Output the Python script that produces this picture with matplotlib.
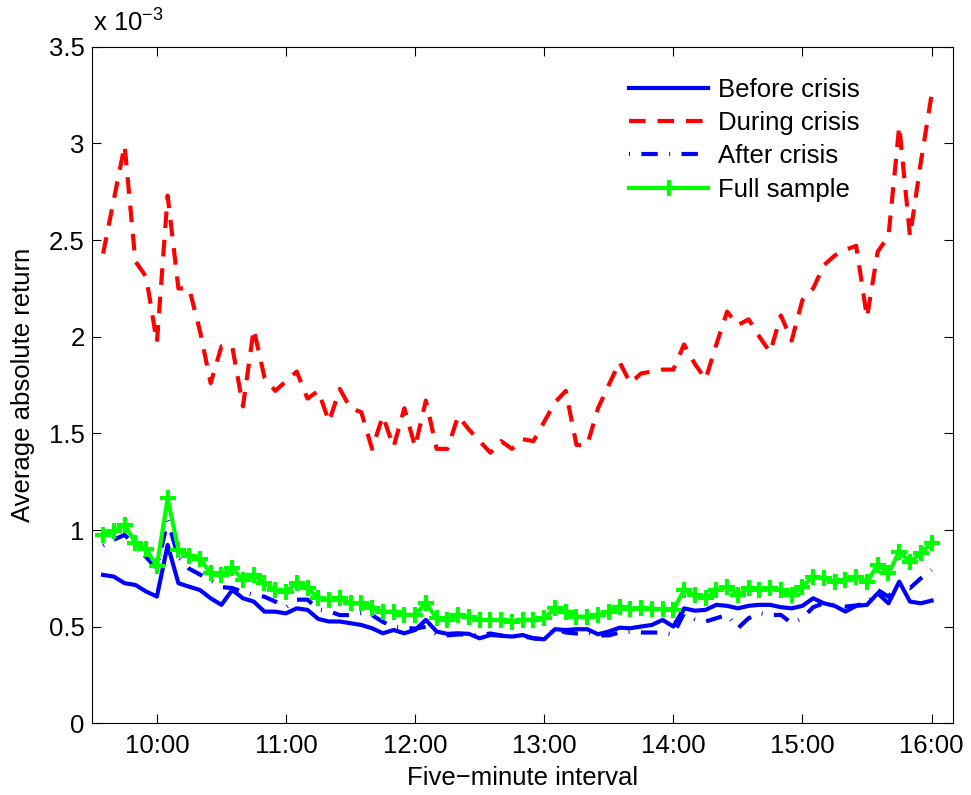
import matplotlib
matplotlib.use('Agg')
import matplotlib.pyplot as plt
import numpy as np

# ---------------- data (values in units of 1e-3) ----------------
intervals = list(range(1, 79))          # 5-minute intervals 9:35 ... 16:00
tick_pos = [6, 18, 30, 42, 54, 66, 78]
tick_labels = ['10:00', '11:00', '12:00', '13:00', '14:00', '15:00', '16:00']
ytick_vals = [0, 0.5, 1, 1.5, 2, 2.5, 3, 3.5]
ytick_labels = ['0', '0.5', '1', '1.5', '2', '2.5', '3', '3.5']

before = [
    0.768, 0.759, 0.725, 0.716, 0.682, 0.656, 0.923, 0.725, 0.707, 0.690,
    0.647, 0.613, 0.690, 0.647, 0.630, 0.578, 0.578, 0.569, 0.595, 0.587,
    0.540, 0.527, 0.527, 0.518, 0.509, 0.492, 0.466, 0.483, 0.466, 0.483,
    0.535, 0.475, 0.463, 0.466, 0.463, 0.440, 0.457, 0.453, 0.449, 0.457,
    0.440, 0.435, 0.487, 0.483, 0.487, 0.487, 0.461, 0.475, 0.495, 0.492,
    0.501, 0.509, 0.535, 0.501, 0.595, 0.583, 0.587, 0.613, 0.608, 0.595,
    0.608, 0.613, 0.613, 0.601, 0.595, 0.608, 0.647, 0.621, 0.608, 0.578,
    0.608, 0.613, 0.673, 0.621, 0.733, 0.630, 0.621, 0.635]

during = [
    2.43, 2.71, 2.99, 2.39, 2.31, 1.97, 2.73, 2.25, 2.25, 2.03,
    1.76, 1.95, 1.95, 1.64, 2.04, 1.79, 1.72, 1.77, 1.82, 1.68,
    1.72, 1.56, 1.73, 1.63, 1.61, 1.42, 1.59, 1.43, 1.63, 1.43,
    1.67, 1.42, 1.42, 1.59, 1.52, 1.46, 1.40, 1.46, 1.42, 1.47,
    1.46, 1.56, 1.66, 1.72, 1.44, 1.44, 1.63, 1.75, 1.87, 1.76,
    1.81, 1.82, 1.83, 1.83, 1.96, 1.86, 1.78, 1.96, 2.13, 2.06,
    2.09, 2.00, 1.92, 2.11, 1.98, 2.19, 2.25, 2.37, 2.42, 2.45,
    2.47, 2.10, 2.44, 2.52, 3.09, 2.52, 2.90, 3.25]

after = [
    0.92, 0.95, 0.975, 0.92, 0.86, 0.80, 1.05, 0.86, 0.80, 0.77,
    0.74, 0.705, 0.70, 0.68, 0.665, 0.655, 0.63, 0.60, 0.64, 0.64,
    0.59, 0.58, 0.56, 0.56, 0.57, 0.56, 0.525, 0.50, 0.495, 0.49,
    0.50, 0.46, 0.455, 0.46, 0.46, 0.455, 0.465, 0.455, 0.45, 0.45,
    0.44, 0.435, 0.49, 0.47, 0.465, 0.47, 0.455, 0.455, 0.47, 0.474,
    0.47, 0.47, 0.47, 0.46, 0.57, 0.54, 0.527, 0.544, 0.561, 0.492,
    0.544, 0.57, 0.561, 0.561, 0.518, 0.544, 0.601, 0.621, 0.613, 0.604,
    0.61, 0.62, 0.69, 0.655, 0.72, 0.70, 0.75, 0.793]

full = [
    0.975, 0.996, 1.026, 0.935, 0.90, 0.815, 1.164, 0.897, 0.868, 0.85,
    0.777, 0.768, 0.802, 0.742, 0.768, 0.725, 0.690, 0.682, 0.725, 0.70,
    0.647, 0.639, 0.647, 0.621, 0.621, 0.595, 0.578, 0.578, 0.561, 0.561,
    0.621, 0.544, 0.535, 0.561, 0.552, 0.535, 0.535, 0.535, 0.526, 0.535,
    0.535, 0.544, 0.595, 0.578, 0.552, 0.552, 0.561, 0.578, 0.60, 0.590,
    0.595, 0.590, 0.590, 0.587, 0.690, 0.665, 0.647, 0.690, 0.707, 0.665,
    0.699, 0.690, 0.699, 0.690, 0.665, 0.707, 0.759, 0.750, 0.733, 0.742,
    0.759, 0.733, 0.819, 0.776, 0.888, 0.836, 0.880, 0.932]

scale = 1e-3

# ---------------- style ----------------
plt.rcParams['font.family'] = ['Liberation Sans', 'DejaVu Sans']
plt.rcParams['mathtext.fontset'] = 'custom'
plt.rcParams['mathtext.rm'] = 'Liberation Sans'
plt.rcParams['mathtext.default'] = 'regular'
plt.rcParams['lines.scale_dashes'] = False

FS = 18.5

fig = plt.figure(figsize=(9.71, 7.95), dpi=100)
ax = fig.add_axes([0.0951, 0.0901, 0.8864, 0.8511])

x = np.array(intervals)
ax.plot(x, np.array(before) * scale, color=(0, 0, 1), lw=3, label='Before crisis')
ax.plot(x, np.array(during) * scale, color=(1, 0, 0), lw=3, dashes=(12, 8.5),
        label='During crisis')
ax.plot(x, np.array(after) * scale, color=(0, 0, 1), lw=3, dashes=(0.7, 8.2, 11.8, 8.2),
        label='After crisis')
ax.plot(x, np.array(full) * scale, color=(0, 1, 0), lw=3, marker='+', ms=11, mew=3,
        label='Full sample')

ax.set_xlim(0, 80)
ax.set_ylim(0, 3.5 * scale)
ax.set_xticks(tick_pos)
ax.set_xticklabels(tick_labels)
ax.set_yticks([v * scale for v in ytick_vals])
ax.set_yticklabels(ytick_labels)

ax.tick_params(direction='in', length=6.2, width=0.8, top=True, right=True,
               labelsize=FS, colors='black')
ax.tick_params(axis='x', pad=8)
ax.tick_params(axis='y', pad=5.5)
for s in ax.spines.values():
    s.set_linewidth(0.8)

ax.legend(loc='upper left', bbox_to_anchor=(0.6236, 0.954), frameon=False,
          handlelength=3.07, handletextpad=0.39, labelspacing=0.36, borderpad=0,
          borderaxespad=0, numpoints=1, fontsize=FS)

fig.text(93 / 971, 1 - 32 / 795, r'x 10$^{-3}$', fontsize=FS, va='baseline', ha='left')
fig.text(523 / 971, 1 - 778 / 795, 'Five\u2212minute interval', fontsize=FS,
         ha='center', va='center')
fig.text(23 / 971, 1 - 385 / 795, 'Average absolute return', fontsize=FS,
         rotation=90, ha='center', va='center')

fig.savefig('out.png', dpi=100)
